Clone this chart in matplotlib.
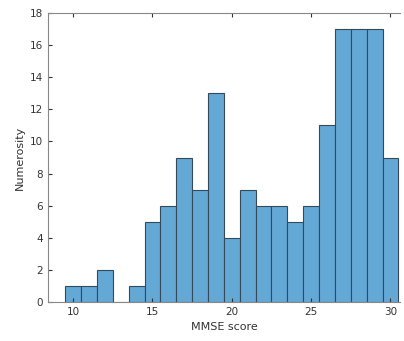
import matplotlib
matplotlib.use("Agg")
import matplotlib.pyplot as plt
import numpy as np

# MMSE score bins (centres) and counts
scores = [10, 11, 12, 13, 14, 15, 16, 17, 18, 19, 20, 21, 22, 23, 24, 25, 26, 27, 28, 29, 30]
counts = [1, 1, 2, 0, 1, 5, 6, 9, 7, 13, 4, 7, 6, 6, 5, 6, 11, 17, 17, 17, 9]
xticks = [10, 15, 20, 25, 30]
yticks = [0, 2, 4, 6, 8, 10, 12, 14, 16, 18]

fig = plt.figure(figsize=(4.04, 3.41), dpi=100)
ax = fig.add_axes([0.119, 0.114, 0.871, 0.848])

ax.bar(scores, counts, width=1, color='#64a8d6', edgecolor='#34495a', linewidth=0.8)

ax.set_xlim(8.42, 30.6)
ax.set_ylim(0, 18)
ax.set_xticks(xticks)
ax.set_yticks(yticks)
ax.tick_params(direction='in', length=3, labelsize=7.5, colors='#333333',
               top=True, right=False)
for s in ['left', 'bottom', 'top']:
    ax.spines[s].set_color('#888888')
    ax.spines[s].set_linewidth(0.8)
ax.spines['right'].set_visible(False)

ax.set_xlabel('MMSE score', fontsize=8, color='#333333', labelpad=3.5)
ax.set_ylabel('Numerosity', fontsize=8, color='#333333', labelpad=4)

plt.savefig("out.png", dpi=100)
